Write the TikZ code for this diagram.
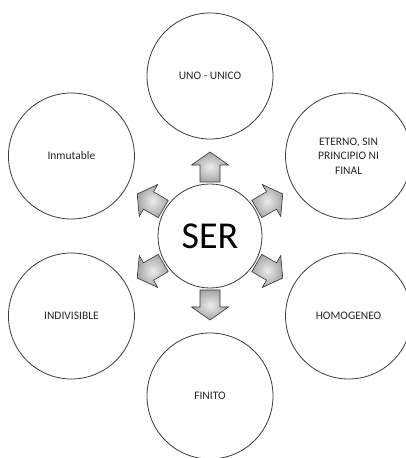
\documentclass[tikz,border=0pt]{standalone}
\usepackage{fontspec}
\setmainfont{Carlito}
\usetikzlibrary{calc}
\definecolor{linec}{HTML}{3A3A3A}
\definecolor{textc}{HTML}{262626}
\begin{document}
\begin{tikzpicture}[x=1pt,y=1pt,
  outer/.style={circle, draw=linec, line width=0.8pt, minimum size=126pt, inner sep=0pt,
    text=textc, font=\fontsize{11.5}{14.5}\selectfont, align=center},
  center/.style={circle, draw=linec, line width=0.8pt, minimum size=104pt, inner sep=0pt,
    text=black, font=\fontsize{38}{40}\selectfont},
  arrowbody/.style={draw=gray!40!black, line width=0.6pt, shading=radial,
    inner color=gray!15, outer color=gray!70},
  blockarr/.pic={\path[arrowbody] (0,-10) -- (17,-10) -- (17,-18.5) -- (30,0) -- (17,18.5) -- (17,10) -- (0,10) -- cycle;}
]
\useasboundingbox (0,0) rectangle (406,458);
\node[center] (ser) at (210,222) {SER};
\path (ser.center) ++(90:160) node[outer] (uno) {UNO - UNICO};
\path (ser.center) ++(30:160) node[outer] (eterno) {ETERNO, SIN\\PRINCIPIO NI\\FINAL};
\path (ser.center) ++(-30:160) node[outer] (homo) {HOMOGENEO};
\path (ser.center) ++(-90:160) node[outer] (finito) {FINITO};
\path (ser.center) ++(-150:160) node[outer] (indiv) {INDIVISIBLE};
\path (ser.center) ++(150:160) node[outer] (inmut) {Inmutable};
\foreach \a in {90,30,-30,-90,-150,150}{
  \path (ser.center) ++(\a:54) pic[rotate=\a] {blockarr};
}
\end{tikzpicture}
\end{document}
